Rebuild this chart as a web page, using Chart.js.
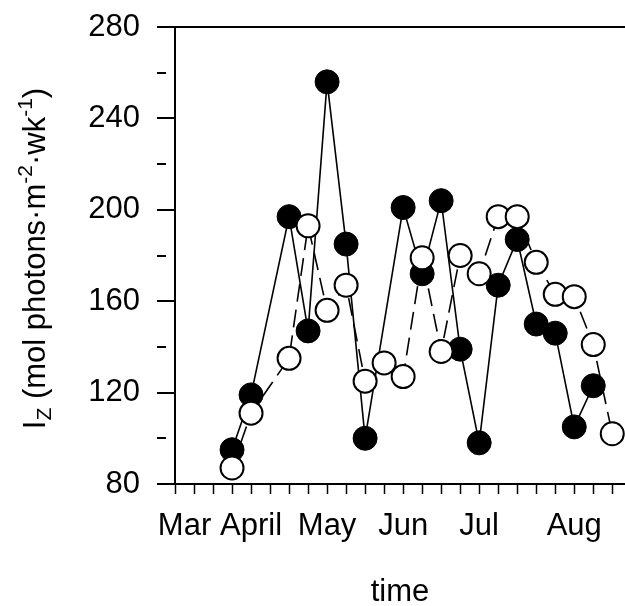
<!DOCTYPE html>
<html lang="en">
<head>
<meta charset="utf-8">
<title>Iz</title>
<script src="https://cdn.jsdelivr.net/npm/chart.js@4.4.1/dist/chart.umd.min.js"></script>
<style>
    html, body { margin: 0; padding: 0; background: #fff; }
    #wrap { width: 625px; height: 606px; }
</style>
</head>
<body>
<div id="wrap"><canvas id="izChart" width="625" height="606"></canvas></div>
<script>
// Weekly light dose at depth, x counted in weeks from 1 March
const filledWeeks = [3, 4, 6, 7, 8, 9, 10, 12, 13, 14, 15, 16, 17, 18, 19, 20, 21, 22];
const filledValues = [95, 119, 197, 147, 256, 185, 100, 201, 172, 204, 139, 98, 167, 187, 150, 146, 105, 123];

const openWeeks = [3, 4, 6, 7, 8, 9, 10, 11, 12, 13, 14, 15, 16, 17, 18, 19, 20, 21, 22, 23];
const openValues = [87, 111, 135, 193, 156, 167, 125, 133, 127, 179, 138, 180, 172, 197, 197, 177, 163, 162, 141, 102];

// Axis labels
const monthLabels = ['Mar', 'April', 'May', 'Jun', 'Jul', 'Aug'];
const monthWeeks = [0.5, 4, 8, 12, 16, 21];
const yLabels = [80, 120, 160, 200, 240, 280];

const FONT = '"Liberation Sans", Arial, sans-serif';
const FONT_SIZE = 31;

document.addEventListener('DOMContentLoaded', function() {
    Chart.defaults.font.family = FONT;
    Chart.defaults.color = '#000';

    // Rotated y title with subscript / superscripts
    const yTitle = {
        id: 'yTitle',
        afterDraw(chart) {
            const ctx = chart.ctx;
            const area = chart.chartArea;
            const runs = [
                { t: 'I', size: FONT_SIZE, dy: 0 },
                { t: 'Z', size: 21, dy: 6 },
                { t: ' (mol photons\u00b7m', size: FONT_SIZE, dy: 0 },
                { t: '-2', size: 21, dy: -13 },
                { t: '\u00b7wk', size: FONT_SIZE, dy: 0 },
                { t: '-1', size: 21, dy: -13 },
                { t: ')', size: FONT_SIZE, dy: 0 }
            ];
            ctx.save();
            ctx.fillStyle = '#000';
            ctx.textBaseline = 'alphabetic';
            let total = 0;
            runs.forEach(r => {
                ctx.font = r.size + 'px ' + FONT;
                r.w = ctx.measureText(r.t).width;
                total += r.w;
            });
            ctx.translate(45, (area.top + area.bottom) / 2 + 3);
            ctx.rotate(-Math.PI / 2);
            let x = -total / 2;
            runs.forEach(r => {
                ctx.font = r.size + 'px ' + FONT;
                ctx.fillText(r.t, x, r.dy);
                x += r.w;
            });
            ctx.restore();
        }
    };

    const ctx = document.getElementById('izChart').getContext('2d');
    new Chart(ctx, {
        type: 'line',
        data: {
            datasets: [
                {
                    label: 'open',
                    data: openWeeks.map((w, i) => ({ x: w, y: openValues[i] })),
                    borderColor: '#000',
                    borderWidth: 1.6,
                    borderDash: [18, 8],
                    pointRadius: 11.5,
                    pointBorderWidth: 2,
                    pointBackgroundColor: '#fff',
                    pointBorderColor: '#000',
                    tension: 0,
                    clip: false,
                    order: 0
                },
                {
                    label: 'filled',
                    data: filledWeeks.map((w, i) => ({ x: w, y: filledValues[i] })),
                    borderColor: '#000',
                    borderWidth: 1.6,
                    pointRadius: 12,
                    pointBorderWidth: 1,
                    pointBackgroundColor: '#000',
                    pointBorderColor: '#000',
                    tension: 0,
                    clip: false,
                    order: 1
                }
            ]
        },
        options: {
            responsive: false,
            devicePixelRatio: 1,
            animation: false,
            layout: {
                autoPadding: false,
                padding: { left: 87, top: 27, right: 0, bottom: 0 }
            },
            plugins: {
                legend: { display: false },
                tooltip: { enabled: false }
            },
            scales: {
                x: {
                    type: 'linear',
                    min: 0,
                    max: 23.67,
                    afterFit(scale) {
                        scale.height = 122;
                        scale.paddingLeft = 0;
                        scale.paddingRight = 0;
                    },
                    afterBuildTicks(scale) {
                        const values = [];
                        for (let w = 0; w <= 23; w++) values.push(w);
                        monthWeeks.forEach(m => { if (!values.includes(m)) values.push(m); });
                        values.sort((a, b) => a - b);
                        scale.ticks = values.map(v => ({ value: v }));
                    },
                    border: { color: '#000', width: 2 },
                    grid: {
                        drawOnChartArea: false,
                        tickLength: 10,
                        tickWidth: 1.5,
                        tickColor: c => (c.tick && Number.isInteger(c.tick.value)) ? '#000' : 'rgba(0,0,0,0)'
                    },
                    ticks: {
                        autoSkip: false,
                        maxRotation: 0,
                        minRotation: 0,
                        padding: 14,
                        color: '#000',
                        font: { size: FONT_SIZE },
                        callback: v => {
                            const i = monthWeeks.indexOf(v);
                            return i >= 0 ? monthLabels[i] : '';
                        }
                    },
                    title: {
                        display: true,
                        text: 'time',
                        color: '#000',
                        font: { size: FONT_SIZE, lineHeight: 0.9 },
                        padding: 0
                    }
                },
                y: {
                    min: 80,
                    max: 280,
                    afterFit(scale) {
                        scale.width = 88;
                        scale.paddingTop = 0;
                        scale.paddingBottom = 0;
                    },
                    border: { color: '#000', width: 2 },
                    grid: {
                        color: c => (c.tick && c.tick.value === 280) ? '#000' : 'rgba(0,0,0,0)',
                        lineWidth: 2,
                        tickLength: 18,
                        tickWidth: 2,
                        tickColor: '#000',
                        tickBorderDash: c => (c.tick && !yLabels.includes(c.tick.value)) ? [9, 40] : []
                    },
                    ticks: {
                        stepSize: 20,
                        padding: 17,
                        color: '#000',
                        font: { size: FONT_SIZE },
                        callback: v => yLabels.includes(v) ? String(v) : ''
                    }
                }
            }
        },
        plugins: [yTitle]
    });
});
</script>
</body>
</html>
